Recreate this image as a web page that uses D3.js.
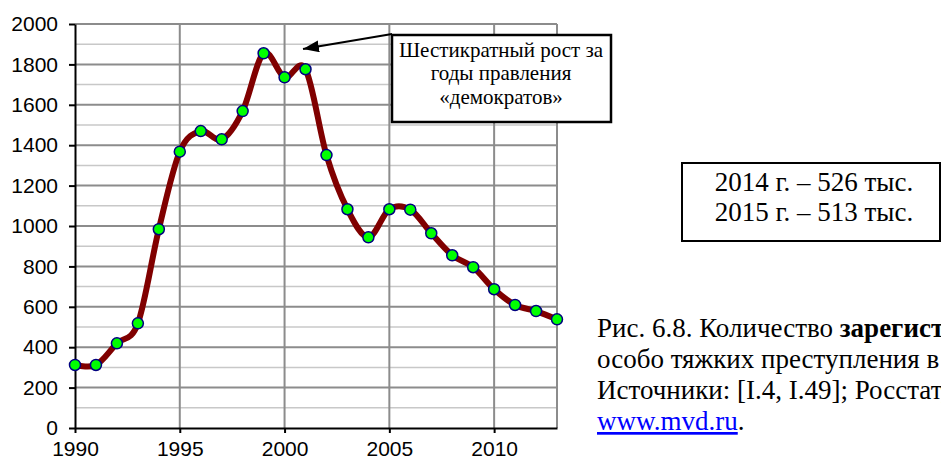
<!DOCTYPE html>
<html>
<head>
<meta charset="utf-8">
<script src="https://cdn.jsdelivr.net/npm/d3@7"></script>
<style>
  body { margin: 0; background: #fff; }
  svg { display: block; }
</style>
</head>
<body>
<div id="chart"></div>
<script>
// данные: зарегистрированные тяжкие и особо тяжкие преступления, тыс.
years = [1990, 1991, 1992, 1993, 1994, 1995, 1996, 1997, 1998, 1999, 2000, 2001,
         2002, 2003, 2004, 2005, 2006, 2007, 2008, 2009, 2010, 2011, 2012, 2013]
crimes = [312, 312, 419, 518, 984, 1368, 1470, 1429, 1569, 1855, 1736, 1776,
          1351, 1083, 944, 1083, 1081, 964, 855, 796, 687, 609, 579, 538]

xTicks = [1990, 1995, 2000, 2005, 2010]
yTicks = [0, 200, 400, 600, 800, 1000, 1200, 1400, 1600, 1800, 2000]
yMinor = [100, 300, 500, 700, 900, 1100, 1300, 1500, 1700, 1900]

noteLines = ['Шестикратный рост за', 'годы правления', '«демократов»']
boxLines = ['2014 г. – 526 тыс.', '2015 г. – 513 тыс.']

svgWidth = 941
svgHeight = 464

margin = {top: 24, left: 75, right: 384, bottom: 36}

width = svgWidth - margin.left - margin.right
height = svgHeight - margin.top - margin.bottom

svg = d3.select('#chart')
        .append('svg')
        .attr('width', svgWidth)
        .attr('height', svgHeight)

svg.append('defs').append('marker')
   .attr('id', 'arrow')
   .attr('viewBox', '0 0 16 12')
   .attr('refX', 16)
   .attr('refY', 6)
   .attr('markerWidth', 16)
   .attr('markerHeight', 12)
   .attr('markerUnits', 'userSpaceOnUse')
   .attr('orient', 'auto')
   .append('path')
   .attr('d', 'M0,0 L16,6 L0,12 Z')
   .attr('fill', '#000')

chartGroup = svg.append('g')
                .attr('transform', `translate(${margin.left},${margin.top})`)

xScale = d3.scaleLinear()
           .domain([1990, 2013])
           .range([0, width])
yScale = d3.scaleLinear()
           .domain([0, 2000])
           .range([height, 0])

// сетка
chartGroup.selectAll('.minor')
          .data(yMinor)
          .enter()
          .append('line')
          .attr('x1', 0)
          .attr('x2', width)
          .attr('y1', d => yScale(d))
          .attr('y2', d => yScale(d))
          .attr('stroke', '#c8c8c8')
          .attr('stroke-width', 1.5)

chartGroup.selectAll('.major')
          .data(yTicks.slice(1))
          .enter()
          .append('line')
          .attr('x1', 0)
          .attr('x2', width)
          .attr('y1', d => yScale(d))
          .attr('y2', d => yScale(d))
          .attr('stroke', '#8c8c8c')
          .attr('stroke-width', 2)

chartGroup.selectAll('.vgrid')
          .data(xTicks.slice(1).concat([2013]))
          .enter()
          .append('line')
          .attr('x1', d => xScale(d))
          .attr('x2', d => xScale(d))
          .attr('y1', 0)
          .attr('y2', height)
          .attr('stroke', '#8c8c8c')
          .attr('stroke-width', 2)

bottomAxis = d3.axisBottom(xScale)
               .tickValues(xTicks)
               .tickFormat(d3.format('d'))
               .tickSizeInner(5)
               .tickSizeOuter(0)
               .tickPadding(8)
leftAxis = d3.axisLeft(yScale)
             .tickValues(yTicks)
             .tickFormat(d3.format('d'))
             .tickSizeInner(6)
             .tickSizeOuter(0)
             .tickPadding(11)

xAxis = chartGroup.append('g')
          .attr('transform', `translate(0,${height})`)
          .call(bottomAxis)

yAxis = chartGroup.append('g')
          .call(leftAxis)

chartGroup.selectAll('.domain, .tick line')
          .attr('stroke', '#000')
          .attr('stroke-width', 2)
chartGroup.selectAll('.tick text')
          .attr('font-family', 'Liberation Sans, Arial, sans-serif')
          .attr('font-size', 21)
          .attr('fill', '#000')

// линия
points = years.map((y, i) => [y, crimes[i]])

line = d3.line()
         .x(d => xScale(d[0]))
         .y(d => yScale(d[1]))
         .curve(d3.curveCardinal.tension(0))

chartGroup.append('path')
          .datum(points)
          .attr('d', line)
          .attr('fill', 'none')
          .attr('stroke', '#800000')
          .attr('stroke-width', 6)
          .attr('stroke-linejoin', 'round')

chartGroup.selectAll('circle')
          .data(points)
          .enter()
          .append('circle')
          .attr('cx', d => xScale(d[0]))
          .attr('cy', d => yScale(d[1]))
          .attr('r', 5.5)
          .attr('fill', '#00ff00')
          .attr('stroke', '#000080')
          .attr('stroke-width', 1.5)

// выноска
svg.append('line')
   .attr('x1', 392)
   .attr('y1', 34)
   .attr('x2', 303)
   .attr('y2', 49)
   .attr('stroke', '#000')
   .attr('stroke-width', 2)
   .attr('marker-end', 'url(#arrow)')

svg.append('rect')
   .attr('x', 392)
   .attr('y', 35)
   .attr('width', 219)
   .attr('height', 87)
   .attr('fill', '#fff')
   .attr('stroke', '#000')
   .attr('stroke-width', 2.5)

svg.append('text')
   .attr('x', 501)
   .attr('y', 56.5)
   .attr('text-anchor', 'middle')
   .attr('font-family', 'Liberation Serif, Times New Roman, serif')
   .attr('font-size', 21)
   .selectAll('tspan')
   .data(noteLines)
   .enter()
   .append('tspan')
   .attr('x', 501)
   .attr('dy', (d, i) => i ? 23.5 : 0)
   .text(d => d)

svg.append('rect')
   .attr('x', 682)
   .attr('y', 163)
   .attr('width', 258)
   .attr('height', 78)
   .attr('fill', '#fff')
   .attr('stroke', '#000')
   .attr('stroke-width', 2)

svg.append('text')
   .attr('x', 814)
   .attr('y', 191)
   .attr('text-anchor', 'middle')
   .attr('font-family', 'Liberation Serif, Times New Roman, serif')
   .attr('font-size', 27)
   .selectAll('tspan')
   .data(boxLines)
   .enter()
   .append('tspan')
   .attr('x', 814)
   .attr('dy', (d, i) => i ? 30 : 0)
   .text(d => d)

// подпись
caption = svg.append('text')
             .attr('font-family', 'Liberation Serif, Times New Roman, serif')
             .attr('font-size', 27)
             .attr('fill', '#000')

line1 = caption.append('tspan').attr('x', 597).attr('y', 337)
line1.append('tspan').text('Рис. 6.8. Количество ')
line1.append('tspan').attr('font-weight', 'bold').text('зарегистрированных')

caption.append('tspan').attr('x', 597).attr('y', 368)
       .text('особо тяжких преступления в России')
caption.append('tspan').attr('x', 597).attr('y', 399)
       .text('Источники: [I.4, I.49]; Росстат,')

link = svg.append('text')
          .attr('x', 597)
          .attr('y', 430)
          .attr('font-family', 'Liberation Serif, Times New Roman, serif')
          .attr('font-size', 27)
link.append('tspan')
    .attr('fill', '#0000ff')
    .attr('text-decoration', 'underline')
    .text('www.mvd.ru')
link.append('tspan')
    .attr('fill', '#000')
    .text('.')
</script>
</body>
</html>
